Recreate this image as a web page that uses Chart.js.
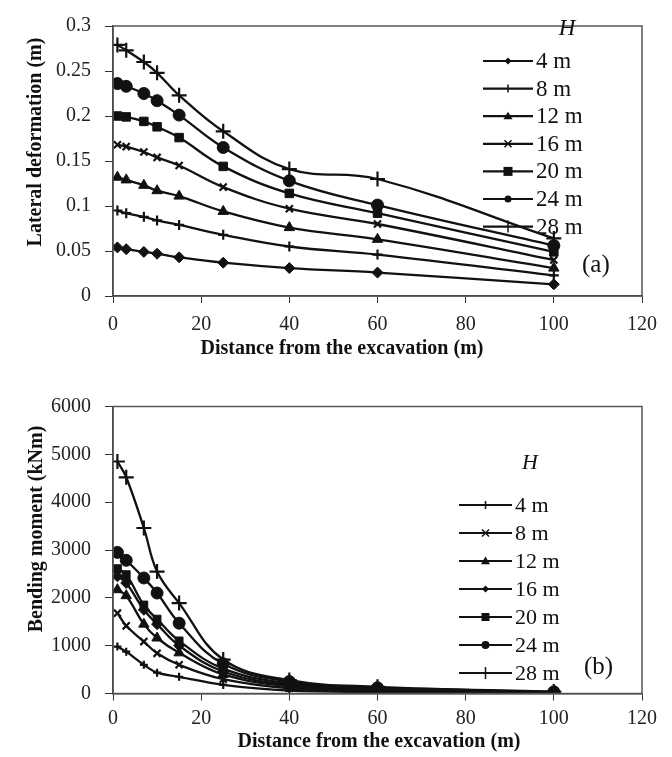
<!DOCTYPE html>
<html>
<head>
<meta charset="utf-8">
<script src="https://cdn.jsdelivr.net/npm/chart.js@4.4.0/dist/chart.umd.min.js"></script>
<style>
    body { margin: 0; background: #fff; }
</style>
</head>
<body>
<canvas id="graficoA" width="672" height="365" style="position:absolute;left:0;top:0"></canvas>
<canvas id="graficoB" width="672" height="392" style="position:absolute;left:0;top:365px"></canvas>
<script>
// Dados
const distancia = [1, 3, 7, 10, 15, 25, 40, 60, 100];
const alturas = ['4 m', '8 m', '12 m', '16 m', '20 m', '24 m', '28 m'];

// (a) deformação lateral (m)
const defLat4 = [0.054, 0.052, 0.049, 0.047, 0.043, 0.037, 0.031, 0.026, 0.013];
const defLat8 = [0.095, 0.092, 0.088, 0.084, 0.079, 0.068, 0.055, 0.046, 0.023];
const defLat12 = [0.132, 0.129, 0.123, 0.117, 0.111, 0.094, 0.076, 0.063, 0.031];
const defLat16 = [0.168, 0.166, 0.160, 0.154, 0.145, 0.121, 0.097, 0.080, 0.040];
const defLat20 = [0.200, 0.199, 0.194, 0.188, 0.176, 0.144, 0.114, 0.092, 0.049];
const defLat24 = [0.236, 0.233, 0.225, 0.217, 0.201, 0.165, 0.128, 0.101, 0.056];
const defLat28 = [0.279, 0.273, 0.260, 0.248, 0.223, 0.183, 0.141, 0.130, 0.064];

// (b) momento fletor (kNm)
const momento4 = [980, 875, 600, 436, 350, 180, 60, 35, 10];
const momento8 = [1680, 1415, 1085, 840, 600, 300, 110, 55, 15];
const momento12 = [2170, 2045, 1450, 1160, 850, 400, 150, 75, 20];
const momento16 = [2450, 2310, 1750, 1450, 1000, 460, 180, 90, 25];
const momento20 = [2610, 2485, 1850, 1555, 1100, 520, 210, 100, 30];
const momento24 = [2950, 2785, 2415, 2100, 1470, 620, 250, 120, 35];
const momento28 = [4850, 4520, 3460, 2550, 1890, 710, 280, 140, 40];

// Rótulos dos eixos
const ticksX = ['0', '20', '40', '60', '80', '100', '120'];
const ticksYA = ['0', '0.05', '0.1', '0.15', '0.2', '0.25', '0.3'];
const ticksYB = ['0', '1000', '2000', '3000', '4000', '5000', '6000'];

const serifa = '"Liberation Serif", "Times New Roman", serif';
const preto = '#111';

function pares(valores) {
    return valores.map((v, i) => ({ x: distancia[i], y: v }));
}

// desenha um marcador simples (usado na legenda)
function marcador(ctx, estilo, r, x, y) {
    ctx.beginPath();
    if (estilo === 'circle') {
        ctx.arc(x, y, r, 0, Math.PI * 2);
        ctx.fill();
    } else if (estilo === 'rect') {
        ctx.fillRect(x - r, y - r, 2 * r, 2 * r);
    } else if (estilo === 'rectRot') {
        ctx.moveTo(x, y - r); ctx.lineTo(x + r, y); ctx.lineTo(x, y + r); ctx.lineTo(x - r, y);
        ctx.closePath(); ctx.fill();
    } else if (estilo === 'triangle') {
        ctx.moveTo(x, y - r); ctx.lineTo(x + r, y + r * 0.7); ctx.lineTo(x - r, y + r * 0.7);
        ctx.closePath(); ctx.fill();
    } else if (estilo === 'cross') {
        ctx.moveTo(x, y - r); ctx.lineTo(x, y + r);
        ctx.stroke();
    } else if (estilo === 'crossRot') {
        ctx.moveTo(x - r, y - r); ctx.lineTo(x + r, y + r);
        ctx.moveTo(x - r, y + r); ctx.lineTo(x + r, y - r);
        ctx.stroke();
    }
}

// Legenda, letra do painel e títulos dos eixos
const extras = {
    id: 'extras',
    afterDatasetsDraw(chart, args, o) {
        const ctx = chart.ctx;
        const area = chart.chartArea;
        ctx.save();
        ctx.strokeStyle = '#555';
        ctx.lineWidth = 1.5;
        ctx.strokeRect(area.left, area.top, area.right - area.left, area.bottom - area.top);

        ctx.fillStyle = preto;
        ctx.textBaseline = 'middle';
        ctx.textAlign = 'center';
        ctx.font = 'italic ' + o.fonte + 'px ' + serifa;
        ctx.fillText('H', o.hx, o.hy);

        ctx.textAlign = 'left';
        ctx.font = o.fonte + 'px ' + serifa;
        chart.data.datasets.forEach((ds, i) => {
            const y = o.y0 + i * o.passo;
            ctx.strokeStyle = preto;
            ctx.lineWidth = 2.2;
            ctx.beginPath();
            ctx.moveTo(o.x0, y);
            ctx.lineTo(o.x1, y);
            ctx.stroke();
            ctx.lineWidth = 1.5;
            marcador(ctx, ds.pointStyle, o.raios[i], (o.x0 + o.x1) / 2, y);
            ctx.fillText(ds.label, o.x1 + 3, y + 1);
        });

        ctx.font = o.fonteLetra + 'px ' + serifa;
        ctx.fillText(o.letra, o.lx, o.ly);

        ctx.font = 'bold 20px ' + serifa;
        ctx.textAlign = 'center';
        ctx.fillText(o.tituloX, o.tx, o.ty);
        ctx.translate(o.yx, o.yy);
        ctx.rotate(-Math.PI / 2);
        ctx.fillText(o.tituloY, 0, 0);
        ctx.restore();
    }
};

function serie(label, valores, estilo, raio) {
    return {
        label: label,
        data: pares(valores),
        borderColor: preto,
        borderWidth: 2.3,
        pointStyle: estilo,
        pointRadius: raio,
        pointBackgroundColor: preto,
        pointBorderColor: preto,
        pointBorderWidth: (estilo === 'cross' || estilo === 'crossRot') ? 2.2 : 1,
        tension: 0.4
    };
}

function escalas(ticksY, maxY, passoY, alturaX, padX) {
    return {
        x: {
            type: 'linear', min: 0, max: 120,
            ticks: { stepSize: 20, color: '#222', padding: padX, font: { family: serifa, size: 20 },
                callback: (v, i) => ticksX[i] },
            grid: { drawOnChartArea: false, drawTicks: true, tickLength: 7, color: '#333' },
            border: { color: '#333', width: 1.5 },
            afterFit: (s) => { s.height = alturaX; }
        },
        y: {
            min: 0, max: maxY,
            ticks: { stepSize: passoY, color: '#222', padding: 14, font: { family: serifa, size: 20 },
                callback: (v, i) => ticksY[i] },
            grid: { drawOnChartArea: false, drawTicks: true, tickLength: 8, color: '#333' },
            border: { color: '#333', width: 1.5 },
            afterFit: (s) => { s.width = 113; }
        }
    };
}

new Chart(document.getElementById('graficoA'), {
    type: 'line',
    data: {
        datasets: [
            serie(alturas[0], defLat4, 'rectRot', 5.5),
            serie(alturas[1], defLat8, 'cross', 5),
            serie(alturas[2], defLat12, 'triangle', 6),
            serie(alturas[3], defLat16, 'crossRot', 5),
            serie(alturas[4], defLat20, 'rect', 6),
            serie(alturas[5], defLat24, 'circle', 6),
            serie(alturas[6], defLat28, 'cross', 7.5)
        ]
    },
    options: {
        responsive: false,
        animation: false,
        layout: { padding: { top: 15, right: 30, left: 0, bottom: 0 } },
        scales: escalas(ticksYA, 0.3, 0.05, 69, 10),
        plugins: {
            legend: { display: false },
            tooltip: { enabled: false },
            extras: {
                fonte: 23, hx: 567, hy: 29, x0: 483, x1: 533, y0: 61, passo: 27.6,
                raios: [3.5, 4, 4.5, 3.5, 4.5, 3.5, 6],
                letra: '(a)', fonteLetra: 25, lx: 582, ly: 265,
                tituloX: 'Distance from the excavation (m)', tx: 342, ty: 349,
                tituloY: 'Lateral deformation (m)', yx: 36, yy: 142
            }
        }
    },
    plugins: [extras]
});

new Chart(document.getElementById('graficoB'), {
    type: 'line',
    data: {
        datasets: [
            serie(alturas[0], momento4, 'cross', 4),
            serie(alturas[1], momento8, 'crossRot', 5),
            serie(alturas[2], momento12, 'triangle', 6),
            serie(alturas[3], momento16, 'rectRot', 5.5),
            serie(alturas[4], momento20, 'rect', 5.5),
            serie(alturas[5], momento24, 'circle', 6),
            serie(alturas[6], momento28, 'cross', 7.5)
        ]
    },
    options: {
        responsive: false,
        animation: false,
        layout: { padding: { top: 41.5, right: 30, left: 0, bottom: 0 } },
        scales: escalas(ticksYB, 6000, 1000, 63.5, 6),
        plugins: {
            legend: { display: false },
            tooltip: { enabled: false },
            extras: {
                fonte: 22, hx: 530, hy: 98, x0: 459, x1: 512, y0: 140, passo: 28,
                raios: [4, 3.5, 4.5, 3.5, 4, 4, 6],
                letra: '(b)', fonteLetra: 25, lx: 584, ly: 302,
                tituloX: 'Distance from the excavation (m)', tx: 379, ty: 377,
                tituloY: 'Bending moment (kNm)', yx: 37, yy: 164
            }
        }
    },
    plugins: [extras]
});
</script>
</body>
</html>
